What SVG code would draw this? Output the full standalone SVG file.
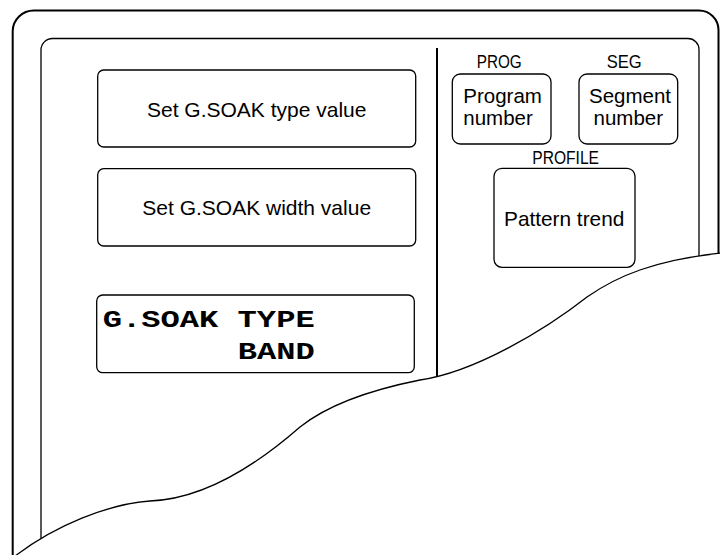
<svg xmlns="http://www.w3.org/2000/svg" width="720" height="555" viewBox="0 0 720 555">
<style>
.box{fill:#fff;stroke:#000;stroke-width:1.3}
.t{font-family:"Liberation Sans",Arial,sans-serif;fill:#000}
.big{font-size:21px}
.mid{font-size:20.5px}
.lbl{font-size:18px}
.lcd{font-family:"Liberation Mono","Courier New",monospace;font-weight:bold;font-size:23px;fill:#000}
.frame{fill:none;stroke:#000}
</style>
<rect width="720" height="555" fill="#fff"/>
<g id="frame">
<path class="frame" stroke-width="2" d="M12.7 560 V31 A21 21 0 0 1 33.7 10.5 H699 A19.5 19.5 0 0 1 718.5 30 V300"/>
<path class="frame" stroke-width="1.3" d="M41 545 V50 A11.5 11.5 0 0 1 52.5 38.5 H688 A11 11 0 0 1 699 49.5 V300"/>
<line x1="437" y1="48" x2="437" y2="390" stroke="#000" stroke-width="2"/>
</g>
<g id="node-type">
<rect class="box" x="97.7" y="70" width="318" height="77" rx="6"/>
<text class="t big" x="256.7" y="116.7" text-anchor="middle">Set G.SOAK type value</text>
</g>
<g id="node-width">
<rect class="box" x="97.7" y="168.7" width="318" height="77.3" rx="6"/>
<text class="t big" x="256.7" y="215" text-anchor="middle">Set G.SOAK width value</text>
</g>
<g id="node-lcd">
<rect class="box" x="96.7" y="295" width="317.6" height="77.7" rx="6"/>
<text class="lcd" x="102.7" y="326.7" textLength="212" lengthAdjust="spacingAndGlyphs">G.SOAK TYPE</text>
<text class="lcd" x="237.7" y="359.3" textLength="77" lengthAdjust="spacingAndGlyphs">BAND</text>
</g>
<g id="node-prog">
<text class="t lbl" x="476.7" y="68.3" textLength="45" lengthAdjust="spacingAndGlyphs">PROG</text>
<rect class="box" x="452.3" y="74" width="98.7" height="70" rx="8"/>
<text class="t mid" x="463.3" y="103.3">Program</text>
<text class="t mid" x="463.3" y="125">number</text>
</g>
<g id="node-seg">
<text class="t lbl" x="606.7" y="68.3" textLength="35" lengthAdjust="spacingAndGlyphs">SEG</text>
<rect class="box" x="579" y="74" width="98.7" height="70" rx="8"/>
<text class="t mid" x="589" y="103.3">Segment</text>
<text class="t mid" x="593.5" y="125">number</text>
</g>
<g id="node-profile">
<text class="t lbl" x="532.3" y="164" textLength="66.7" lengthAdjust="spacingAndGlyphs">PROFILE</text>
<rect class="box" x="494" y="168.3" width="141" height="99" rx="8"/>
<text class="t big" x="504" y="226" textLength="120.3" lengthAdjust="spacingAndGlyphs">Pattern trend</text>
</g>
<g id="tear">
<path fill="#fff" stroke="none" d="M10 560 C55 524 110 504 150 501 C205 499 260 462 300 427 C330 403 375 389 420 380 C475 372 545 330 587 297 C617 276 655 260 722 253 L722 560 Z"/>
<path fill="none" stroke="#000" stroke-width="1.3" d="M10 560 C55 524 110 504 150 501 C205 499 260 462 300 427 C330 403 375 389 420 380 C475 372 545 330 587 297 C617 276 655 260 722 253"/>
</g>
</svg>
